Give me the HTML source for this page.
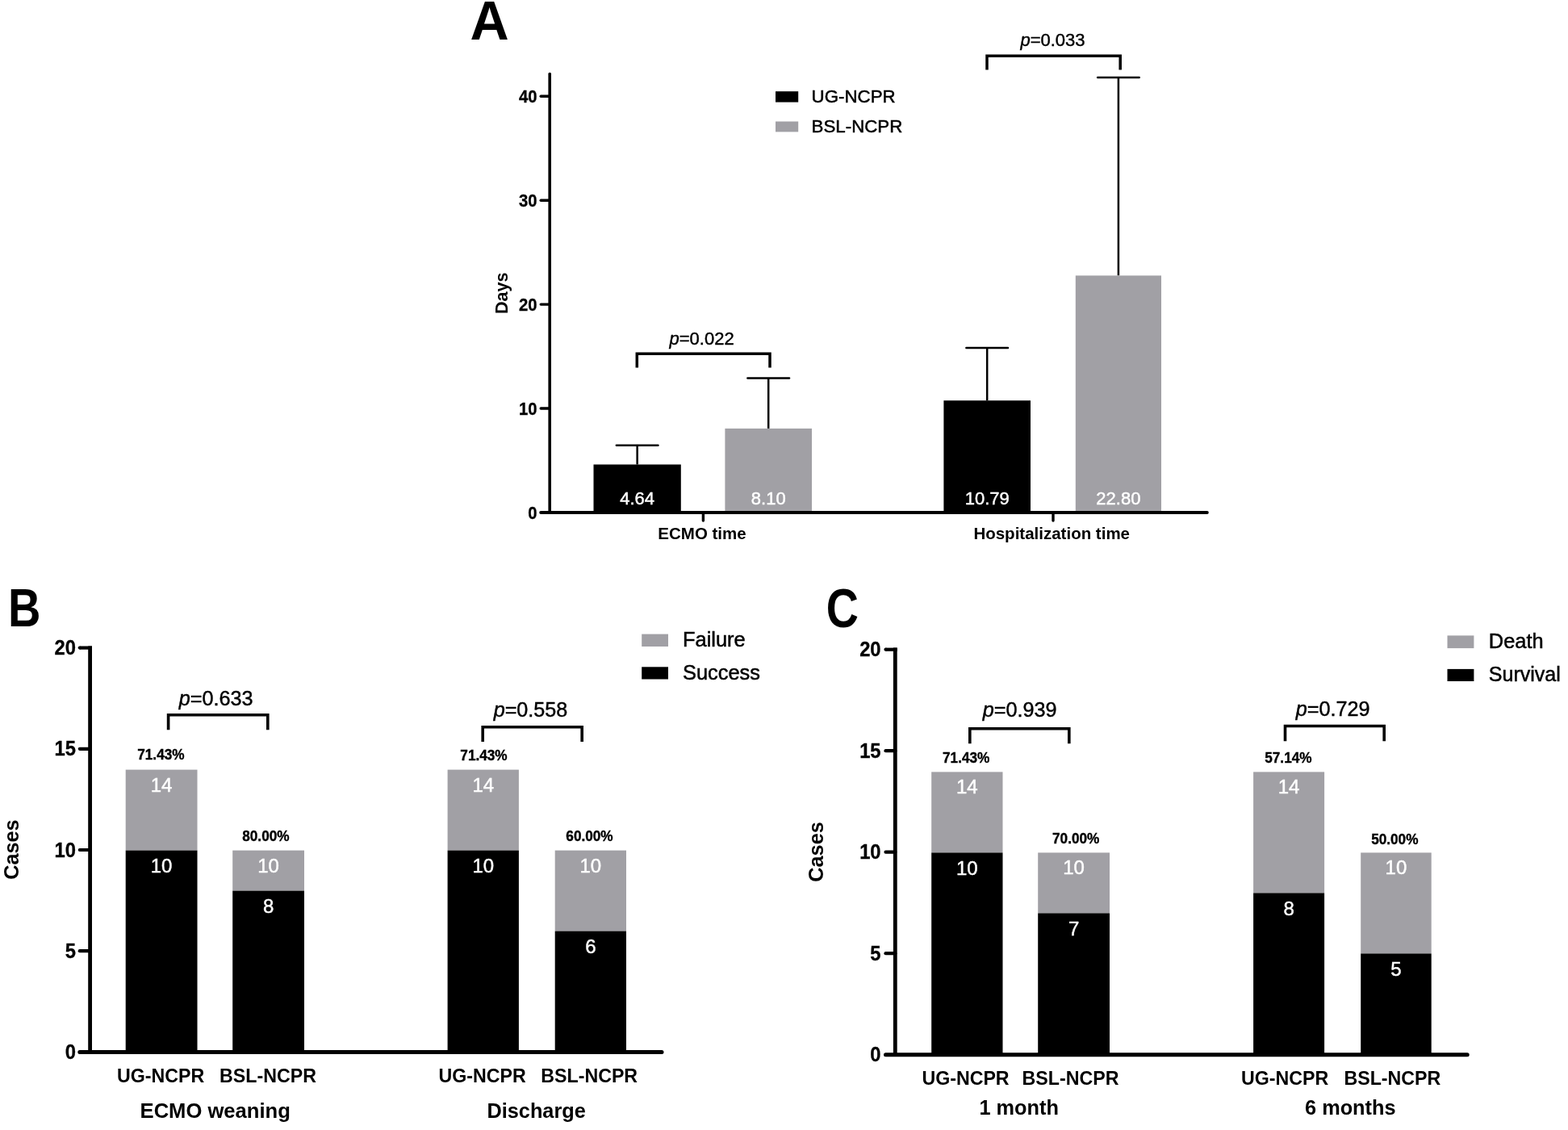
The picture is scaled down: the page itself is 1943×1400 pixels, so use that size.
<!DOCTYPE html>
<html lang="en">
<head>
<meta charset="utf-8">
<title>Figure: ECMO time, hospitalization time and outcomes, UG-NCPR vs BSL-NCPR</title>
<style>
html,body{margin:0;padding:0;background:#fff;}
body{width:1943px;height:1400px;overflow:hidden;}
svg{display:block;font-family:"Liberation Sans",sans-serif;}
svg text{white-space:pre;}
</style>
</head>
<body>
<svg width="1943" height="1400" viewBox="0 0 1943 1400" role="img" aria-label="Bar charts comparing UG-NCPR and BSL-NCPR">
<rect x="0" y="0" width="1943" height="1400" fill="#ffffff"/>
<g id="panelA">
<text transform="translate(606.60 49.20) scale(0.98 1.0)" font-size="68" text-anchor="middle" fill="#000" font-weight="bold">A</text>
<line x1="789.65" y1="575.49" x2="789.65" y2="551.76" stroke="#000" stroke-width="2.5" stroke-linecap="butt"/>
<line x1="763.85" y1="551.76" x2="815.45" y2="551.76" stroke="#000" stroke-width="2.5" stroke-linecap="round"/>
<rect x="735.50" y="575.49" width="108.30" height="59.41" fill="#000000"/>
<text transform="translate(789.65 625.10)" font-size="22" text-anchor="middle" fill="#fff" stroke="#fff" stroke-width="0.45">4.64</text>
<line x1="952.20" y1="530.89" x2="952.20" y2="468.62" stroke="#000" stroke-width="2.5" stroke-linecap="butt"/>
<line x1="926.40" y1="468.62" x2="978.00" y2="468.62" stroke="#000" stroke-width="2.5" stroke-linecap="round"/>
<rect x="898.40" y="530.89" width="107.60" height="104.01" fill="#a1a0a5"/>
<text transform="translate(952.20 625.10)" font-size="22" text-anchor="middle" fill="#fff" stroke="#fff" stroke-width="0.45">8.10</text>
<line x1="1223.20" y1="496.22" x2="1223.20" y2="430.98" stroke="#000" stroke-width="2.5" stroke-linecap="butt"/>
<line x1="1197.40" y1="430.98" x2="1249.00" y2="430.98" stroke="#000" stroke-width="2.5" stroke-linecap="round"/>
<rect x="1169.40" y="496.22" width="107.60" height="138.68" fill="#000000"/>
<text transform="translate(1223.20 625.10)" font-size="22" text-anchor="middle" fill="#fff" stroke="#fff" stroke-width="0.45">10.79</text>
<line x1="1385.90" y1="341.41" x2="1385.90" y2="96.10" stroke="#000" stroke-width="2.5" stroke-linecap="butt"/>
<line x1="1360.10" y1="96.10" x2="1411.70" y2="96.10" stroke="#000" stroke-width="2.5" stroke-linecap="round"/>
<rect x="1332.80" y="341.41" width="106.20" height="293.49" fill="#a1a0a5"/>
<text transform="translate(1385.90 625.10)" font-size="22" text-anchor="middle" fill="#fff" stroke="#fff" stroke-width="0.45">22.80</text>
<line x1="681.20" y1="91.60" x2="681.20" y2="634.90" stroke="#000" stroke-width="3.6" stroke-linecap="round"/>
<line x1="670.20" y1="634.90" x2="1495.80" y2="634.90" stroke="#000" stroke-width="4.0" stroke-linecap="round"/>
<line x1="670.20" y1="506.00" x2="681.20" y2="506.00" stroke="#000" stroke-width="3.4" stroke-linecap="round"/>
<line x1="670.20" y1="377.10" x2="681.20" y2="377.10" stroke="#000" stroke-width="3.4" stroke-linecap="round"/>
<line x1="670.20" y1="248.20" x2="681.20" y2="248.20" stroke="#000" stroke-width="3.4" stroke-linecap="round"/>
<line x1="670.20" y1="119.30" x2="681.20" y2="119.30" stroke="#000" stroke-width="3.4" stroke-linecap="round"/>
<text transform="translate(665.60 642.50) scale(1.0 1.08)" font-size="20.3" text-anchor="end" fill="#000" stroke="#000" stroke-width="0.3" font-weight="bold">0</text>
<text transform="translate(665.60 513.60) scale(1.0 1.08)" font-size="20.3" text-anchor="end" fill="#000" stroke="#000" stroke-width="0.3" font-weight="bold">10</text>
<text transform="translate(665.60 384.70) scale(1.0 1.08)" font-size="20.3" text-anchor="end" fill="#000" stroke="#000" stroke-width="0.3" font-weight="bold">20</text>
<text transform="translate(665.60 255.80) scale(1.0 1.08)" font-size="20.3" text-anchor="end" fill="#000" stroke="#000" stroke-width="0.3" font-weight="bold">30</text>
<text transform="translate(665.60 126.90) scale(1.0 1.08)" font-size="20.3" text-anchor="end" fill="#000" stroke="#000" stroke-width="0.3" font-weight="bold">40</text>
<line x1="871.40" y1="634.90" x2="871.40" y2="645.00" stroke="#000" stroke-width="3.4" stroke-linecap="round"/>
<line x1="1305.00" y1="634.90" x2="1305.00" y2="645.00" stroke="#000" stroke-width="3.4" stroke-linecap="round"/>
<path d="M789.30 455.50 V438.30 H954.00 V455.50" fill="none" stroke="#000" stroke-width="3.5" stroke-linejoin="miter"/>
<text transform="translate(869.60 427.30)" font-size="22" text-anchor="middle" fill="#000" stroke="#000" stroke-width="0.45"><tspan font-style="italic">p</tspan>=0.022</text>
<path d="M1223.00 86.40 V69.20 H1388.20 V86.40" fill="none" stroke="#000" stroke-width="3.5" stroke-linejoin="miter"/>
<text transform="translate(1304.50 57.10)" font-size="22" text-anchor="middle" fill="#000" stroke="#000" stroke-width="0.45"><tspan font-style="italic">p</tspan>=0.033</text>
<rect x="961.00" y="113.20" width="28.20" height="13.40" fill="#000000"/>
<rect x="961.00" y="150.50" width="28.20" height="12.90" fill="#a1a0a5"/>
<text transform="translate(1005.60 126.70)" font-size="22.3" text-anchor="start" fill="#000" stroke="#000" stroke-width="0.5">UG-NCPR</text>
<text transform="translate(1005.60 163.50)" font-size="22.3" text-anchor="start" fill="#000" stroke="#000" stroke-width="0.5">BSL-NCPR</text>
<text transform="translate(629.20 363.30) rotate(-90)" font-size="21.6" text-anchor="middle" fill="#000" font-weight="bold">Days</text>
<text transform="translate(870.00 668.00)" font-size="20.5" text-anchor="middle" fill="#000" font-weight="bold">ECMO time</text>
<text transform="translate(1303.20 668.00)" font-size="20.5" text-anchor="middle" fill="#000" font-weight="bold">Hospitalization time</text>
</g>
<g id="panelB">
<text transform="translate(30.10 776.30) scale(0.83 1.0)" font-size="67.5" text-anchor="middle" fill="#000" font-weight="bold">B</text>
<rect x="155.70" y="953.60" width="88.80" height="100.00" fill="#a1a0a5"/>
<rect x="155.70" y="1053.60" width="88.80" height="250.80" fill="#000000"/>
<text transform="translate(200.10 980.50)" font-size="24" text-anchor="middle" fill="#fff" stroke="#fff" stroke-width="0.45">14</text>
<text transform="translate(200.10 1081.10)" font-size="24" text-anchor="middle" fill="#fff" stroke="#fff" stroke-width="0.45">10</text>
<text transform="translate(199.40 941.40) scale(1.0 1.1)" font-size="17.2" text-anchor="middle" fill="#000" stroke="#000" stroke-width="0.35" font-weight="bold">71.43%</text>
<text transform="translate(199.20 1341.00)" font-size="23.2" text-anchor="middle" fill="#000" font-weight="bold">UG-NCPR</text>
<rect x="288.20" y="1053.60" width="88.80" height="50.00" fill="#a1a0a5"/>
<rect x="288.20" y="1103.60" width="88.80" height="200.80" fill="#000000"/>
<text transform="translate(332.60 1080.50)" font-size="24" text-anchor="middle" fill="#fff" stroke="#fff" stroke-width="0.45">10</text>
<text transform="translate(332.60 1131.10)" font-size="24" text-anchor="middle" fill="#fff" stroke="#fff" stroke-width="0.45">8</text>
<text transform="translate(329.40 1041.70) scale(1.0 1.1)" font-size="17.2" text-anchor="middle" fill="#000" stroke="#000" stroke-width="0.35" font-weight="bold">80.00%</text>
<text transform="translate(332.00 1341.00)" font-size="23.2" text-anchor="middle" fill="#000" font-weight="bold">BSL-NCPR</text>
<path d="M208.60 904.20 V885.70 H331.80 V904.20" fill="none" stroke="#000" stroke-width="3.6" stroke-linejoin="miter"/>
<text transform="translate(267.60 873.70)" font-size="25.2" text-anchor="middle" fill="#000" stroke="#000" stroke-width="0.45"><tspan font-style="italic">p</tspan>=0.633</text>
<text transform="translate(266.70 1385.40)" font-size="25.6" text-anchor="middle" fill="#000" font-weight="bold">ECMO weaning</text>
<rect x="554.60" y="953.60" width="88.30" height="100.00" fill="#a1a0a5"/>
<rect x="554.60" y="1053.60" width="88.30" height="250.80" fill="#000000"/>
<text transform="translate(598.75 980.50)" font-size="24" text-anchor="middle" fill="#fff" stroke="#fff" stroke-width="0.45">14</text>
<text transform="translate(598.75 1081.10)" font-size="24" text-anchor="middle" fill="#fff" stroke="#fff" stroke-width="0.45">10</text>
<text transform="translate(599.50 942.20) scale(1.0 1.1)" font-size="17.2" text-anchor="middle" fill="#000" stroke="#000" stroke-width="0.35" font-weight="bold">71.43%</text>
<text transform="translate(597.60 1341.00)" font-size="23.2" text-anchor="middle" fill="#000" font-weight="bold">UG-NCPR</text>
<rect x="687.70" y="1053.60" width="88.30" height="100.00" fill="#a1a0a5"/>
<rect x="687.70" y="1153.60" width="88.30" height="150.80" fill="#000000"/>
<text transform="translate(731.85 1080.50)" font-size="24" text-anchor="middle" fill="#fff" stroke="#fff" stroke-width="0.45">10</text>
<text transform="translate(731.85 1181.10)" font-size="24" text-anchor="middle" fill="#fff" stroke="#fff" stroke-width="0.45">6</text>
<text transform="translate(730.50 1042.15) scale(1.0 1.1)" font-size="17.2" text-anchor="middle" fill="#000" stroke="#000" stroke-width="0.35" font-weight="bold">60.00%</text>
<text transform="translate(730.20 1341.00)" font-size="23.2" text-anchor="middle" fill="#000" font-weight="bold">BSL-NCPR</text>
<path d="M598.20 919.10 V900.70 H721.20 V919.10" fill="none" stroke="#000" stroke-width="3.6" stroke-linejoin="miter"/>
<text transform="translate(657.50 888.20)" font-size="25.2" text-anchor="middle" fill="#000" stroke="#000" stroke-width="0.45"><tspan font-style="italic">p</tspan>=0.558</text>
<text transform="translate(664.60 1385.40)" font-size="25.3" text-anchor="middle" fill="#000" font-weight="bold">Discharge</text>
<line x1="111.60" y1="800.50" x2="111.60" y2="1305.70" stroke="#000" stroke-width="4.8" stroke-linecap="butt"/>
<line x1="98.80" y1="1303.40" x2="820.00" y2="1303.40" stroke="#000" stroke-width="5.0" stroke-linecap="round"/>
<line x1="98.80" y1="1178.20" x2="111.60" y2="1178.20" stroke="#000" stroke-width="4.2" stroke-linecap="round"/>
<line x1="98.80" y1="1053.00" x2="111.60" y2="1053.00" stroke="#000" stroke-width="4.2" stroke-linecap="round"/>
<line x1="98.80" y1="927.80" x2="111.60" y2="927.80" stroke="#000" stroke-width="4.2" stroke-linecap="round"/>
<line x1="98.80" y1="802.60" x2="114.00" y2="802.60" stroke="#000" stroke-width="4.2" stroke-linecap="butt"/>
<circle cx="98.80" cy="802.60" r="2.1" fill="#000"/>
<text transform="translate(94.00 1312.00) scale(1.0 1.09)" font-size="23.8" text-anchor="end" fill="#000" stroke="#000" stroke-width="0.3" font-weight="bold">0</text>
<text transform="translate(94.00 1186.80) scale(1.0 1.09)" font-size="23.8" text-anchor="end" fill="#000" stroke="#000" stroke-width="0.3" font-weight="bold">5</text>
<text transform="translate(94.00 1061.60) scale(1.0 1.09)" font-size="23.8" text-anchor="end" fill="#000" stroke="#000" stroke-width="0.3" font-weight="bold">10</text>
<text transform="translate(94.00 936.40) scale(1.0 1.09)" font-size="23.8" text-anchor="end" fill="#000" stroke="#000" stroke-width="0.3" font-weight="bold">15</text>
<text transform="translate(94.00 811.20) scale(1.0 1.09)" font-size="23.8" text-anchor="end" fill="#000" stroke="#000" stroke-width="0.3" font-weight="bold">20</text>
<rect x="795.20" y="785.60" width="32.80" height="15.40" fill="#a1a0a5"/>
<rect x="795.20" y="826.30" width="32.80" height="15.20" fill="#000000"/>
<text transform="translate(846.00 801.40)" font-size="25.4" text-anchor="start" fill="#000" stroke="#000" stroke-width="0.5">Failure</text>
<text transform="translate(846.00 841.60)" font-size="25.4" text-anchor="start" fill="#000" stroke="#000" stroke-width="0.5">Success</text>
<text transform="translate(22.50 1052.60) rotate(-90)" font-size="25.3" text-anchor="middle" fill="#000" font-weight="bold">Cases</text>
</g>
<g id="panelC">
<text transform="translate(1043.80 777.20) scale(0.813 1.0)" font-size="68.4" text-anchor="middle" fill="#000" font-weight="bold">C</text>
<rect x="1154.20" y="956.40" width="88.30" height="100.00" fill="#a1a0a5"/>
<rect x="1154.20" y="1056.40" width="88.30" height="251.30" fill="#000000"/>
<text transform="translate(1198.35 983.30)" font-size="24" text-anchor="middle" fill="#fff" stroke="#fff" stroke-width="0.45">14</text>
<text transform="translate(1198.35 1083.90)" font-size="24" text-anchor="middle" fill="#fff" stroke="#fff" stroke-width="0.45">10</text>
<text transform="translate(1197.20 944.90) scale(1.0 1.1)" font-size="17.2" text-anchor="middle" fill="#000" stroke="#000" stroke-width="0.35" font-weight="bold">71.43%</text>
<text transform="translate(1196.50 1344.00)" font-size="23.2" text-anchor="middle" fill="#000" font-weight="bold">UG-NCPR</text>
<rect x="1286.20" y="1056.40" width="88.80" height="75.00" fill="#a1a0a5"/>
<rect x="1286.20" y="1131.40" width="88.80" height="176.30" fill="#000000"/>
<text transform="translate(1330.60 1083.30)" font-size="24" text-anchor="middle" fill="#fff" stroke="#fff" stroke-width="0.45">10</text>
<text transform="translate(1330.60 1158.90)" font-size="24" text-anchor="middle" fill="#fff" stroke="#fff" stroke-width="0.45">7</text>
<text transform="translate(1333.20 1045.45) scale(1.0 1.1)" font-size="17.2" text-anchor="middle" fill="#000" stroke="#000" stroke-width="0.35" font-weight="bold">70.00%</text>
<text transform="translate(1326.50 1344.00)" font-size="23.2" text-anchor="middle" fill="#000" font-weight="bold">BSL-NCPR</text>
<path d="M1201.80 921.20 V902.80 H1324.80 V921.20" fill="none" stroke="#000" stroke-width="3.6" stroke-linejoin="miter"/>
<text transform="translate(1263.60 887.80)" font-size="25.2" text-anchor="middle" fill="#000" stroke="#000" stroke-width="0.45"><tspan font-style="italic">p</tspan>=0.939</text>
<text transform="translate(1262.70 1381.20)" font-size="25.3" text-anchor="middle" fill="#000" font-weight="bold">1 month</text>
<rect x="1553.10" y="956.40" width="88.00" height="150.00" fill="#a1a0a5"/>
<rect x="1553.10" y="1106.40" width="88.00" height="201.30" fill="#000000"/>
<text transform="translate(1597.10 983.30)" font-size="24" text-anchor="middle" fill="#fff" stroke="#fff" stroke-width="0.45">14</text>
<text transform="translate(1597.10 1133.90)" font-size="24" text-anchor="middle" fill="#fff" stroke="#fff" stroke-width="0.45">8</text>
<text transform="translate(1596.40 944.60) scale(1.0 1.1)" font-size="17.2" text-anchor="middle" fill="#000" stroke="#000" stroke-width="0.35" font-weight="bold">57.14%</text>
<text transform="translate(1592.20 1344.00)" font-size="23.2" text-anchor="middle" fill="#000" font-weight="bold">UG-NCPR</text>
<rect x="1686.20" y="1056.40" width="87.50" height="125.00" fill="#a1a0a5"/>
<rect x="1686.20" y="1181.40" width="87.50" height="126.30" fill="#000000"/>
<text transform="translate(1729.95 1083.30)" font-size="24" text-anchor="middle" fill="#fff" stroke="#fff" stroke-width="0.45">10</text>
<text transform="translate(1729.95 1208.90)" font-size="24" text-anchor="middle" fill="#fff" stroke="#fff" stroke-width="0.45">5</text>
<text transform="translate(1728.30 1045.75) scale(1.0 1.1)" font-size="17.2" text-anchor="middle" fill="#000" stroke="#000" stroke-width="0.35" font-weight="bold">50.00%</text>
<text transform="translate(1725.40 1344.00)" font-size="23.2" text-anchor="middle" fill="#000" font-weight="bold">BSL-NCPR</text>
<path d="M1592.50 918.20 V899.50 H1715.20 V918.20" fill="none" stroke="#000" stroke-width="3.6" stroke-linejoin="miter"/>
<text transform="translate(1651.60 886.70)" font-size="25.2" text-anchor="middle" fill="#000" stroke="#000" stroke-width="0.45"><tspan font-style="italic">p</tspan>=0.729</text>
<text transform="translate(1673.30 1381.20)" font-size="25.3" text-anchor="middle" fill="#000" font-weight="bold">6 months</text>
<line x1="1109.30" y1="802.60" x2="1109.30" y2="1309.00" stroke="#000" stroke-width="4.8" stroke-linecap="butt"/>
<line x1="1097.50" y1="1306.70" x2="1818.20" y2="1306.70" stroke="#000" stroke-width="5.0" stroke-linecap="round"/>
<line x1="1097.50" y1="1181.20" x2="1109.30" y2="1181.20" stroke="#000" stroke-width="4.2" stroke-linecap="round"/>
<line x1="1097.50" y1="1055.70" x2="1109.30" y2="1055.70" stroke="#000" stroke-width="4.2" stroke-linecap="round"/>
<line x1="1097.50" y1="930.20" x2="1109.30" y2="930.20" stroke="#000" stroke-width="4.2" stroke-linecap="round"/>
<line x1="1097.50" y1="804.70" x2="1111.70" y2="804.70" stroke="#000" stroke-width="4.2" stroke-linecap="butt"/>
<circle cx="1097.50" cy="804.70" r="2.1" fill="#000"/>
<text transform="translate(1091.60 1315.30) scale(1.0 1.09)" font-size="23.8" text-anchor="end" fill="#000" stroke="#000" stroke-width="0.3" font-weight="bold">0</text>
<text transform="translate(1091.60 1189.80) scale(1.0 1.09)" font-size="23.8" text-anchor="end" fill="#000" stroke="#000" stroke-width="0.3" font-weight="bold">5</text>
<text transform="translate(1091.60 1064.30) scale(1.0 1.09)" font-size="23.8" text-anchor="end" fill="#000" stroke="#000" stroke-width="0.3" font-weight="bold">10</text>
<text transform="translate(1091.60 938.80) scale(1.0 1.09)" font-size="23.8" text-anchor="end" fill="#000" stroke="#000" stroke-width="0.3" font-weight="bold">15</text>
<text transform="translate(1091.60 813.30) scale(1.0 1.09)" font-size="23.8" text-anchor="end" fill="#000" stroke="#000" stroke-width="0.3" font-weight="bold">20</text>
<rect x="1793.50" y="787.40" width="32.90" height="15.70" fill="#a1a0a5"/>
<rect x="1793.50" y="828.90" width="32.90" height="15.10" fill="#000000"/>
<text transform="translate(1844.80 803.00)" font-size="25.4" text-anchor="start" fill="#000" stroke="#000" stroke-width="0.5">Death</text>
<text transform="translate(1844.80 843.70) scale(0.985 1.0)" font-size="25.4" text-anchor="start" fill="#000" stroke="#000" stroke-width="0.5">Survival</text>
<text transform="translate(1019.80 1055.50) rotate(-90)" font-size="25.3" text-anchor="middle" fill="#000" font-weight="bold">Cases</text>
</g>
</svg>
</body>
</html>
